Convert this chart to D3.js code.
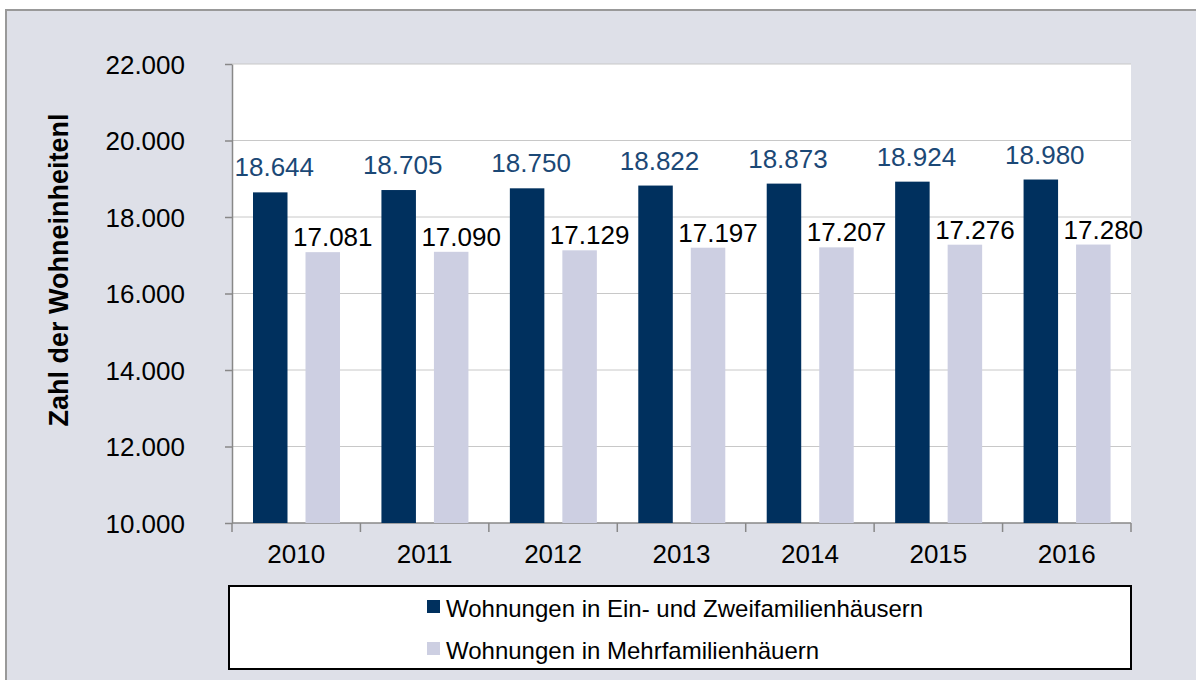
<!DOCTYPE html>
<html lang="de">
<head>
    <meta charset="UTF-8">
    <title>Wohneinheiten 2010-2016</title>
    <script src="https://d3js.org/d3.v7.min.js"></script>
    <style>
        body {
            margin: 0;
            padding: 0;
            font-family: "Liberation Sans", Arial, sans-serif;
        }
        svg text {
            font-family: "Liberation Sans", Arial, sans-serif;
        }
    </style>
</head>
<body>
    <svg width="1196" height="680"></svg>
    <script>
        // Data
        const years = ["2010", "2011", "2012", "2013", "2014", "2015", "2016"];
        const einZwei = [18644, 18705, 18750, 18822, 18873, 18924, 18980];
        const mehr = [17081, 17090, 17129, 17197, 17207, 17276, 17280];
        const seriesNames = ["Wohnungen in Ein- und Zweifamilienhäusern", "Wohnungen in Mehrfamilienhäuern"];
        const yTicks = [10000, 12000, 14000, 16000, 18000, 20000, 22000];

        const svg = d3.select("svg");
        const darkBar = "#00305e", lightBar = "#cdcfe2";
        const fmt = d3.formatLocale({ decimal: ",", thousands: ".", grouping: [3], currency: ["", "€"] }).format(",d");

        // outer frame
        svg.append("rect")
            .attr("x", 6).attr("y", 10)
            .attr("width", 1200).attr("height", 700)
            .attr("fill", "#dee0e8")
            .attr("stroke", "#999")
            .attr("stroke-width", 2);

        const pLeft = 232, pRight = 1131, pTop = 64, pBottom = 523;

        const x = d3.scaleBand().domain(years).range([pLeft, pRight]);
        const y = d3.scaleLinear().domain([10000, 22000]).range([pBottom, pTop]);

        // plot area
        svg.append("rect")
            .attr("x", pLeft).attr("y", pTop)
            .attr("width", pRight - pLeft).attr("height", pBottom - pTop)
            .attr("fill", "#fff");

        // gridlines
        svg.append("g")
            .selectAll("line")
            .data(yTicks.slice(1))
            .join("line")
            .attr("x1", pLeft).attr("x2", pRight)
            .attr("y1", d => y(d)).attr("y2", d => y(d))
            .attr("stroke", "#c8c8c8")
            .attr("stroke-width", 1);

        // y axis
        const yAxis = svg.append("g")
            .attr("transform", `translate(${pLeft},0)`)
            .call(d3.axisLeft(y).tickValues(yTicks).tickSize(7).tickSizeOuter(0).tickPadding(40).tickFormat(fmt));
        yAxis.select(".domain").attr("stroke", "#888").attr("stroke-width", 1.5);
        yAxis.selectAll(".tick line").attr("stroke", "#888").attr("stroke-width", 1.5);
        yAxis.selectAll(".tick text")
            .attr("font-size", 26)
            .attr("fill", "#000")
            .attr("dy", "0.35em");

        // x axis (ticks at category boundaries)
        const bounds = years.map(d => x(d)).concat([pRight]);
        svg.append("line")
            .attr("x1", pLeft).attr("x2", pRight)
            .attr("y1", pBottom).attr("y2", pBottom)
            .attr("stroke", "#888").attr("stroke-width", 1.5);
        svg.append("g")
            .selectAll("line")
            .data(bounds)
            .join("line")
            .attr("x1", d => d).attr("x2", d => d)
            .attr("y1", pBottom).attr("y2", pBottom + 9)
            .attr("stroke", "#888").attr("stroke-width", 1.5);
        svg.append("g")
            .selectAll("text")
            .data(years)
            .join("text")
            .attr("x", d => x(d) + x.bandwidth() / 2)
            .attr("y", 563)
            .attr("text-anchor", "middle")
            .attr("font-size", 26)
            .text(d => d);

        // bars
        const bw = 34.5, pad = 21, gap = 18;
        const barsG = svg.append("g");
        barsG.selectAll("rect.dark")
            .data(years)
            .join("rect")
            .attr("class", "dark")
            .attr("x", d => x(d) + pad)
            .attr("y", (d, i) => y(einZwei[i]))
            .attr("width", bw)
            .attr("height", (d, i) => pBottom - y(einZwei[i]))
            .attr("fill", darkBar);
        barsG.selectAll("rect.light")
            .data(years)
            .join("rect")
            .attr("class", "light")
            .attr("x", d => x(d) + pad + bw + gap)
            .attr("y", (d, i) => y(mehr[i]))
            .attr("width", bw)
            .attr("height", (d, i) => pBottom - y(mehr[i]))
            .attr("fill", lightBar);

        // value labels
        svg.append("g")
            .selectAll("text")
            .data(years)
            .join("text")
            .attr("x", d => x(d) + pad + bw / 2 + 4)
            .attr("y", (d, i) => y(einZwei[i]) - 16)
            .attr("text-anchor", "middle")
            .attr("font-size", 26)
            .attr("fill", "#1b4876")
            .text((d, i) => fmt(einZwei[i]));
        svg.append("g")
            .selectAll("text")
            .data(years)
            .join("text")
            .attr("x", d => x(d) + pad + bw + gap + bw / 2 + 10)
            .attr("y", (d, i) => y(mehr[i]) - 6)
            .attr("text-anchor", "middle")
            .attr("font-size", 26)
            .attr("fill", "#000")
            .text((d, i) => fmt(mehr[i]));

        // y axis title
        svg.append("text")
            .attr("transform", "translate(68,270) rotate(-90)")
            .attr("text-anchor", "middle")
            .attr("font-size", 27)
            .attr("font-weight", "bold")
            .text("Zahl der Wohneinheitenl");

        // legend
        svg.append("rect")
            .attr("x", 229).attr("y", 586)
            .attr("width", 902).attr("height", 83)
            .attr("fill", "#fff")
            .attr("stroke", "#000")
            .attr("stroke-width", 2);
        const legend = svg.append("g")
            .selectAll("g")
            .data(seriesNames)
            .join("g")
            .attr("transform", (d, i) => `translate(427,${600 + i * 42})`);
        legend.append("rect")
            .attr("width", 13).attr("height", 13)
            .attr("fill", (d, i) => i === 0 ? darkBar : lightBar);
        legend.append("text")
            .attr("x", 19)
            .attr("y", 17)
            .attr("font-size", 24)
            .text(d => d);
    </script>
</body>
</html>
